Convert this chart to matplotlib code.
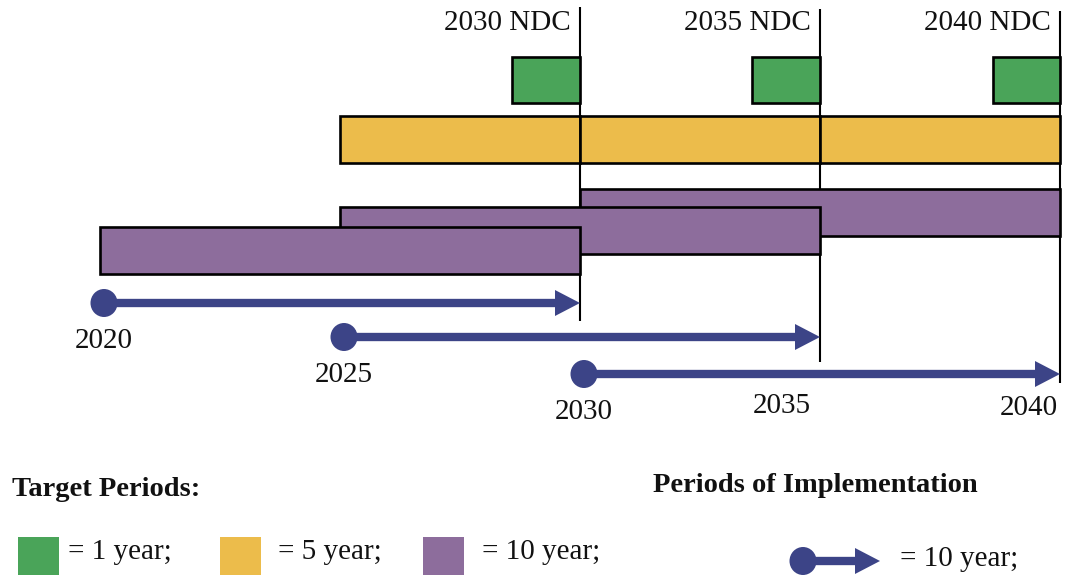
import matplotlib
matplotlib.use("Agg")
import matplotlib.pyplot as plt
from matplotlib.patches import Rectangle, Ellipse, Polygon

plt.rcParams['font.family'] = ['Liberation Serif', 'DejaVu Serif']

# ---------------- data ----------------
ndc_years = [2030, 2035, 2040]
ndc_labels = ["2030 NDC", "2035 NDC", "2040 NDC"]

one_year_start = [2028.58, 2033.58, 2038.6]      # green target boxes (end at NDC year)
five_year_start = [2025, 2030, 2035]             # yellow target boxes
five_year_end = [2030, 2035, 2040]
ten_year_start = [2030, 2025, 2020]              # purple target boxes (drawing order)
ten_year_end = [2040, 2035, 2030]

impl_start = [2020, 2025, 2030]                  # implementation arrows
impl_end = [2030, 2035, 2040]
impl_start_labels = ["2020", "2025", "2030"]
end_labels = ["2035", "2040"]
end_label_years = [2034.2, 2039.35]

legend_boxes = ["= 1 year;", "= 5 year;", "= 10 year;"]
legend_arrow = "= 10 year;"

# ---------------- style ----------------
GREEN = "#4aa459"
YELLOW = "#ecbc4b"
PURPLE = "#8d6d9c"
NAVY = "#3c4487"
EDGE_LW = 1.9
PX_PER_YEAR = 48.0
W, H = 1065, 576

fig = plt.figure(figsize=(W / 100, H / 100), dpi=100)
ax = fig.add_axes([0, 0, 1, 1])
x0 = 2030 - 580 / PX_PER_YEAR
x1 = 2030 + (W - 580) / PX_PER_YEAR
ax.set_xlim(x0, x1)
ax.set_ylim(H, 0)
ax.axis("off")

def px(p):
    return p / PX_PER_YEAR

# vertical NDC lines
line_tops = [7, 9, 11]
line_bottoms = [321, 362, 383]
for yr, t, b in zip(ndc_years, line_tops, line_bottoms):
    ax.plot([yr, yr], [t, b], color="black", lw=1.5, zorder=1, solid_capstyle="butt")

# NDC labels
for yr, lab in zip(ndc_years, ndc_labels):
    ax.text(yr - px(9), 23, lab, ha="right", va="center", fontsize=21, color="#111111")

# green 1-year boxes
for s, e in zip(one_year_start, ndc_years):
    ax.add_patch(Rectangle((s, 57), e - s, 46, facecolor=GREEN, edgecolor="black",
                           lw=EDGE_LW, zorder=3))

# yellow 5-year boxes
for s, e in zip(five_year_start, five_year_end):
    ax.add_patch(Rectangle((s, 116), e - s, 47, facecolor=YELLOW, edgecolor="black",
                           lw=EDGE_LW, zorder=3))

# purple 10-year boxes
purple_tops = [189, 207, 227]
for i, (s, e, t) in enumerate(zip(ten_year_start, ten_year_end, purple_tops)):
    ax.add_patch(Rectangle((s, t), e - s, 47, facecolor=PURPLE, edgecolor="black",
                           lw=EDGE_LW, zorder=4 + i))

# implementation arrows
def draw_arrow(axis, xs, xe, y, head_len, head_half, dot_w, dot_h, lw, z=10):
    axis.plot([xs, xe - head_len * 0.9], [y, y], color=NAVY, lw=lw, zorder=z,
              solid_capstyle="butt")
    axis.add_patch(Polygon([[xe - head_len, y - head_half], [xe, y],
                            [xe - head_len, y + head_half]], closed=True,
                           facecolor=NAVY, edgecolor="none", zorder=z))
    axis.add_patch(Ellipse((xs, y), dot_w, dot_h, facecolor=NAVY, edgecolor="none",
                           zorder=z + 1))

arrow_rows = [303, 337, 374]
for s, e, y, lab in zip(impl_start, impl_end, arrow_rows, impl_start_labels):
    xs = s + px(4)
    draw_arrow(ax, xs, e, y, px(25), 13, px(27), 28, 6.0)
    ax.text(xs, y + 38, lab, ha="center", va="center", fontsize=21, color="#111111")

for yr, lab, y in zip(end_label_years, end_labels, [406, 408]):
    ax.text(yr, y, lab, ha="center", va="center", fontsize=21, color="#111111")

# ---------------- legend (pixel coordinates) ----------------
lg = fig.add_axes([0, 0, 1, 1])
lg.set_xlim(0, W)
lg.set_ylim(H, 0)
lg.axis("off")
lg.patch.set_alpha(0)

lg.text(12, 489, "Target Periods:", ha="left", va="center", fontsize=20.5,
        fontweight="bold", color="#111111")
lg.text(653, 486, "Periods of Implementation", ha="left", va="center", fontsize=20.5,
        fontweight="bold", color="#111111")

sq_x = [18, 220, 423]
txt_x = [68, 278, 482]
for c, sx, tx, lab in zip([GREEN, YELLOW, PURPLE], sq_x, txt_x, legend_boxes):
    lg.add_patch(Rectangle((sx, 537), 41, 38, facecolor=c, edgecolor="none"))
    lg.text(tx, 552, lab, ha="left", va="center", fontsize=21, color="#111111")

draw_arrow(lg, 803, 880, 561, 25, 13, 27, 28, 6.0)
lg.text(900, 559, legend_arrow, ha="left", va="center", fontsize=21, color="#111111")

fig.savefig("out.png", dpi=100, facecolor="white")
